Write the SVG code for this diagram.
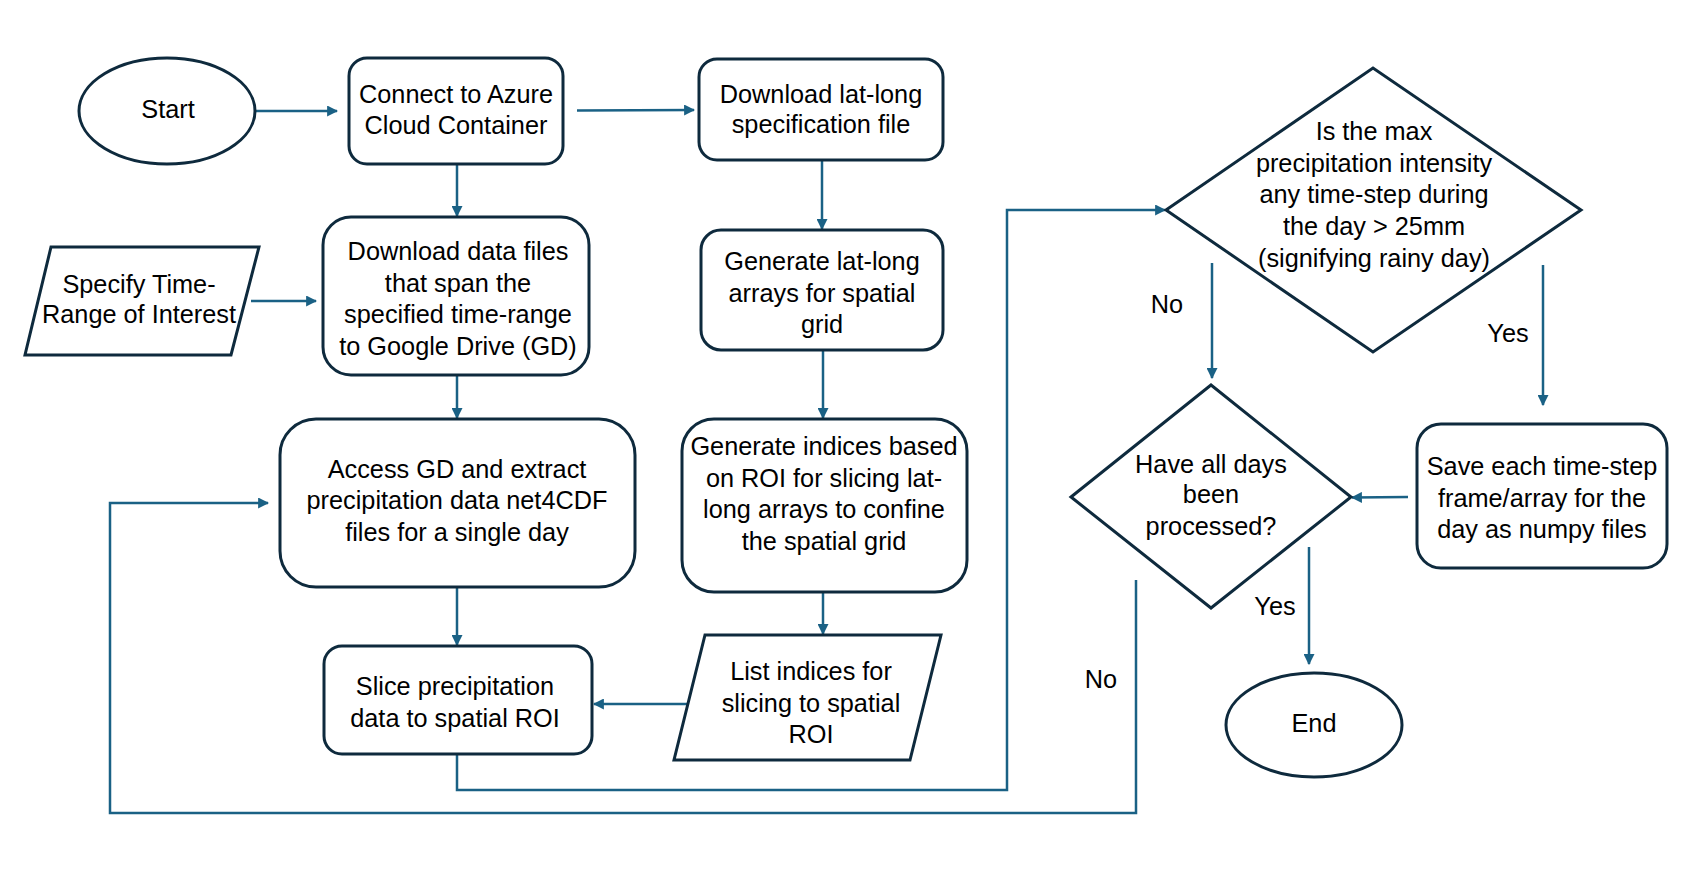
<svg xmlns="http://www.w3.org/2000/svg" width="1704" height="884" viewBox="0 0 1704 884">
<defs>
<style>
.n{fill:#fff;stroke:#0e2a3d;stroke-width:3}
.t{font-family:"Liberation Sans",Arial,sans-serif;font-size:25.3px;fill:#000;text-anchor:middle}
.c{fill:none;stroke:#1a6185;stroke-width:2.5}
.a{marker-end:url(#ah)}
</style>
<marker id="ah" viewBox="0 0 10 10" refX="9" refY="5" markerWidth="4.4" markerHeight="4.4" orient="auto" markerUnits="strokeWidth">
<path d="M0,0 L10,5 L0,10 z" fill="#1a6185"/>
</marker>
</defs>
<rect width="1704" height="884" fill="#fff"/>
<g id="connectors">
<line class="c a" x1="256" y1="111" x2="337" y2="111"/>
<line class="c a" x1="577" y1="110.5" x2="694" y2="110"/>
<line class="c a" x1="457" y1="164" x2="457" y2="216"/>
<line class="c a" x1="822" y1="160" x2="822" y2="229"/>
<line class="c a" x1="251" y1="301" x2="316" y2="301"/>
<line class="c a" x1="457" y1="375" x2="457" y2="418"/>
<line class="c a" x1="823" y1="350" x2="823" y2="418"/>
<line class="c a" x1="823" y1="565" x2="823" y2="634"/>
<line class="c a" x1="457" y1="587" x2="457" y2="645"/>
<line class="c a" x1="691" y1="704" x2="594" y2="704"/>
<polyline class="c a" points="457,754 457,790 1007,790 1007,210 1165,210"/>
<polyline class="c a" points="1136,580 1136,813 110,813 110,503 268,503"/>
<line class="c a" x1="1212" y1="263" x2="1212" y2="378"/>
<line class="c a" x1="1543" y1="265" x2="1543" y2="405"/>
<line class="c a" x1="1408" y1="497" x2="1352" y2="497.5"/>
<line class="c a" x1="1309" y1="547" x2="1309" y2="664"/>
<text class="t" x="1167" y="313">No</text>
<text class="t" x="1508" y="342">Yes</text>
<text class="t" x="1101" y="688">No</text>
<text class="t" x="1275" y="615">Yes</text>
</g>
<g id="start">
<ellipse class="n" cx="167" cy="111" rx="88" ry="53"/>
<text class="t" x="168" y="118">Start</text>
</g>
<g id="connect">
<rect class="n" x="349" y="58" width="214" height="106" rx="18"/>
<text class="t" x="456" y="103">Connect to Azure</text>
<text class="t" x="456" y="134">Cloud Container</text>
</g>
<g id="latlongfile">
<rect class="n" x="699" y="59" width="244" height="101" rx="18"/>
<text class="t" x="821" y="103">Download lat-long</text>
<text class="t" x="821" y="133">specification file</text>
</g>
<g id="specify">
<polygon class="n" points="51,247 259,247 231,355 25,355"/>
<text class="t" x="139" y="293">Specify Time-</text>
<text class="t" x="139" y="323">Range of Interest</text>
</g>
<g id="downloaddata">
<rect class="n" x="323" y="217" width="266" height="158" rx="28"/>
<text class="t" x="458" y="260">Download data files</text>
<text class="t" x="458" y="292">that span the</text>
<text class="t" x="458" y="323">specified time-range</text>
<text class="t" x="458" y="355">to Google Drive (GD)</text>
</g>
<g id="genlatlong">
<rect class="n" x="701" y="230" width="242" height="120" rx="20"/>
<text class="t" x="822" y="270">Generate lat-long</text>
<text class="t" x="822" y="302">arrays for spatial</text>
<text class="t" x="822" y="333">grid</text>
</g>
<g id="access">
<rect class="n" x="280" y="419" width="355" height="168" rx="36"/>
<text class="t" x="457" y="478">Access GD and extract</text>
<text class="t" x="457" y="509">precipitation data net4CDF</text>
<text class="t" x="457" y="541">files for a single day</text>
</g>
<g id="genindices">
<rect class="n" x="682" y="419" width="285" height="173" rx="32"/>
<text class="t" x="824" y="455">Generate indices based</text>
<text class="t" x="824" y="487">on ROI for slicing lat-</text>
<text class="t" x="824" y="518">long arrays to confine</text>
<text class="t" x="824" y="550">the spatial grid</text>
</g>
<g id="listindices">
<polygon class="n" points="705,635 941,635 910,760 674,760"/>
<text class="t" x="811" y="680">List indices for</text>
<text class="t" x="811" y="712">slicing to spatial</text>
<text class="t" x="811" y="743">ROI</text>
</g>
<g id="slice">
<rect class="n" x="324" y="646" width="268" height="108" rx="18"/>
<text class="t" x="455" y="695">Slice precipitation</text>
<text class="t" x="455" y="727">data to spatial ROI</text>
</g>
<g id="decision1">
<polygon class="n" points="1166,210 1373,68 1581,210 1373,352"/>
<text class="t" x="1374" y="140">Is the max</text>
<text class="t" x="1374" y="172">precipitation intensity</text>
<text class="t" x="1374" y="203">any time-step during</text>
<text class="t" x="1374" y="235">the day &gt; 25mm</text>
<text class="t" x="1374" y="267">(signifying rainy day)</text>
</g>
<g id="save">
<rect class="n" x="1417" y="424" width="250" height="144" rx="24"/>
<text class="t" x="1542" y="475">Save each time-step</text>
<text class="t" x="1542" y="507">frame/array for the</text>
<text class="t" x="1542" y="538">day as numpy files</text>
</g>
<g id="decision2">
<polygon class="n" points="1071,497 1211,385 1351,497 1211,608"/>
<text class="t" x="1211" y="473">Have all days</text>
<text class="t" x="1211" y="503">been</text>
<text class="t" x="1211" y="535">processed?</text>
</g>
<g id="end">
<ellipse class="n" cx="1314" cy="725" rx="88" ry="52"/>
<text class="t" x="1314" y="732">End</text>
</g>
</svg>
